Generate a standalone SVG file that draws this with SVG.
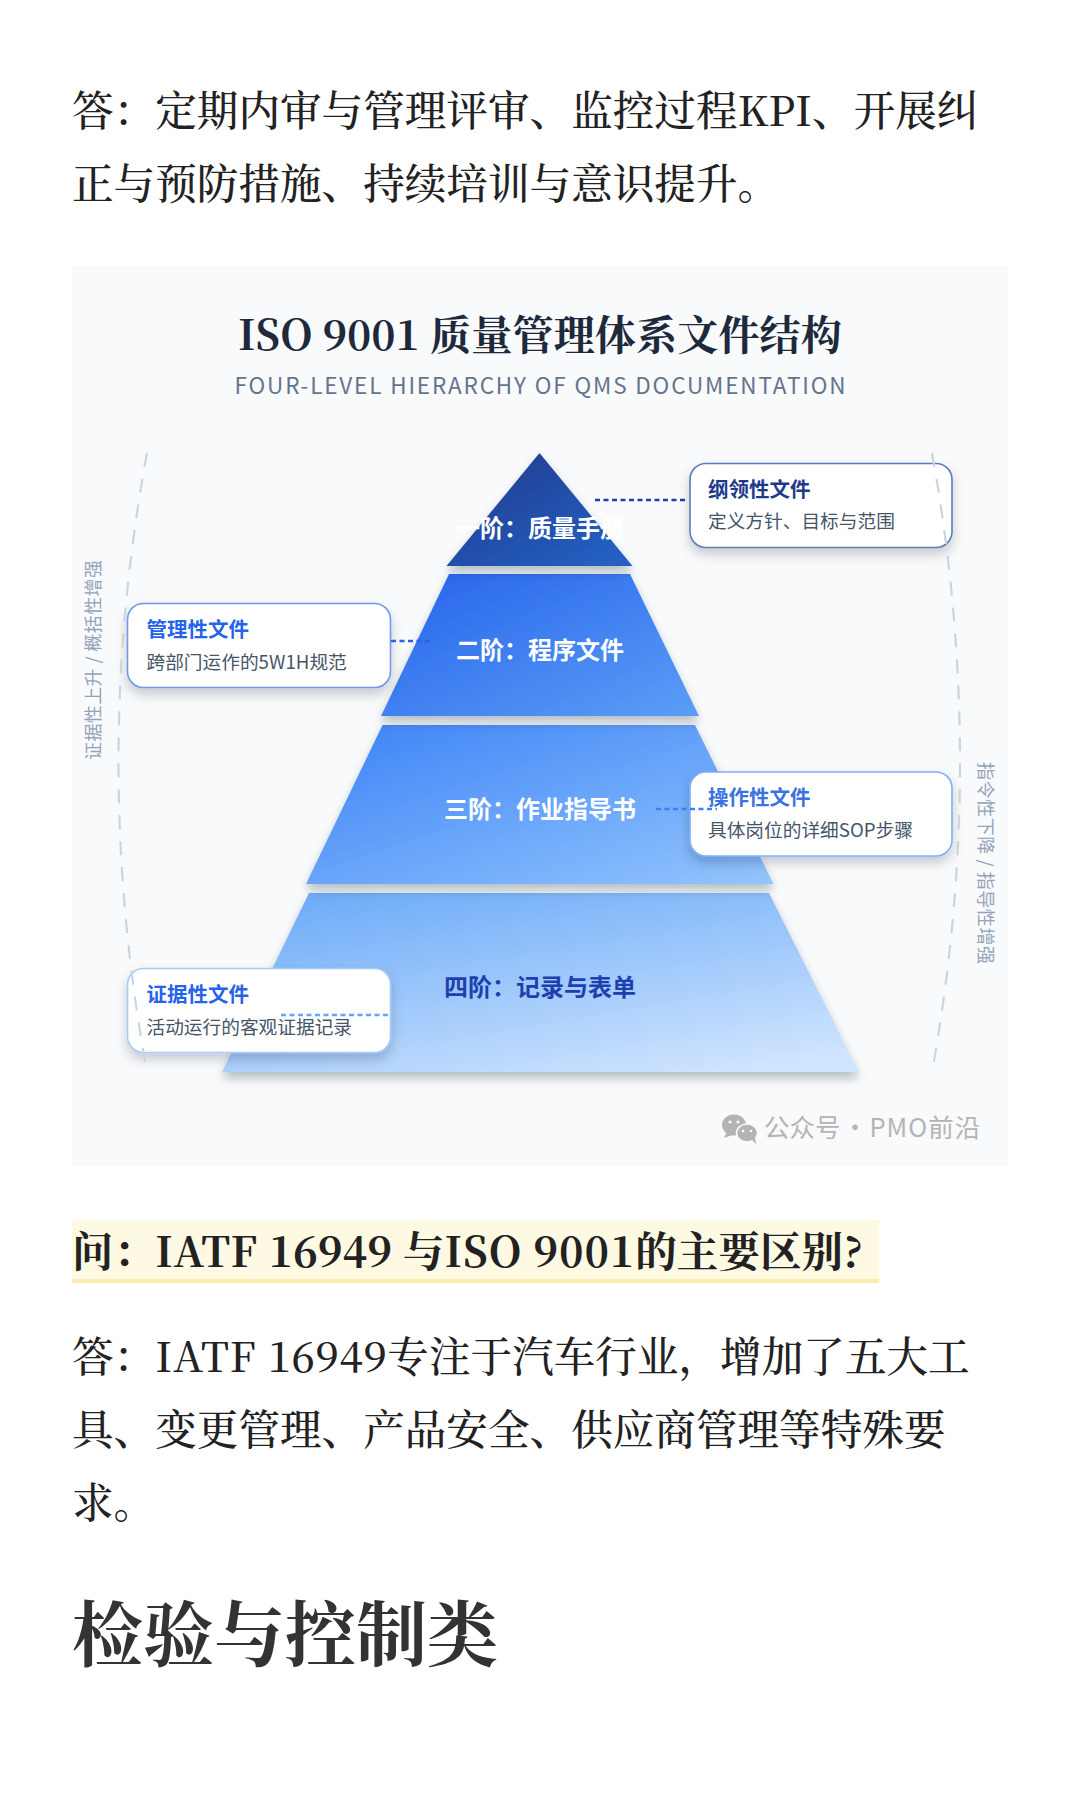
<svg xmlns="http://www.w3.org/2000/svg" width="1080" height="1800" viewBox="0 0 1080 1800">
<style>
.body{font-family:"Noto Serif CJK SC","Liberation Serif","Noto Sans CJK SC",serif;font-size:41.6px;font-weight:500;fill:#222}
.sans{font-family:"Noto Sans CJK SC","Noto Sans",sans-serif}
.tier{font-family:"Noto Sans CJK SC","Noto Sans",sans-serif;font-size:24px;font-weight:700;text-anchor:middle;fill:#fff}
.ct{font-family:"Noto Sans CJK SC","Noto Sans",sans-serif;font-size:20.5px;font-weight:700}
.cs{font-family:"Noto Sans CJK SC","Noto Sans",sans-serif;font-size:18.7px;fill:#475569}
.side{font-family:"Noto Sans CJK SC","Noto Sans",sans-serif;font-size:18px;fill:#94a3b8;text-anchor:middle}
.arc{fill:none;stroke:#cbd5e1;stroke-width:2.2;stroke-dasharray:14 12}
.dash{fill:none;stroke-width:2.4;stroke-dasharray:5 3.5}
.card{fill:#fff;stroke-width:1.6;filter:url(#cs)}
</style>
<defs>
<linearGradient id="g1" x1="0" y1="0" x2="1" y2="1"><stop offset="0" stop-color="#1e3a8a"/><stop offset="1" stop-color="#2563c8"/></linearGradient>
<linearGradient id="g2" x1="0" y1="0" x2="1" y2="1"><stop offset="0" stop-color="#2563eb"/><stop offset="1" stop-color="#5b9ef6"/></linearGradient>
<linearGradient id="g3" x1="0" y1="0" x2="1" y2="1"><stop offset="0" stop-color="#3b82f6"/><stop offset="1" stop-color="#93c5fd"/></linearGradient>
<linearGradient id="g4" x1="0.2" y1="0" x2="0.8" y2="1"><stop offset="0" stop-color="#6fadf8"/><stop offset="1" stop-color="#cfe4fe"/></linearGradient>
<filter id="ts" x="-10%" y="-10%" width="120%" height="130%"><feDropShadow dx="0" dy="6" stdDeviation="5" flood-color="#0f172a" flood-opacity=".28"/></filter>
<filter id="cs" x="-10%" y="-15%" width="120%" height="140%"><feDropShadow dx="0" dy="6" stdDeviation="6" flood-color="#0f172a" flood-opacity=".2"/></filter>
</defs>
<rect width="1080" height="1800" fill="#fff"/>
<g id="para-top" class="body">
<text x="72" y="126">答&#xFF1A;定期内审与管理评审、监控过程KPI、开展纠</text>
<text x="72" y="199">正与预防措施、持续培训与意识提升。</text>
</g>
<g id="figure">
<rect x="72" y="266" width="936" height="900" fill="#f8fafc"/>
<text x="540" y="350" text-anchor="middle" style="font-family:'Noto Serif CJK SC','Liberation Serif','Noto Sans CJK SC',serif;font-size:41.2px;font-weight:700;fill:#1e293b">ISO 9001 质量管理体系文件结构</text>
<text x="540" y="394" text-anchor="middle" class="sans" font-size="22.5" fill="#64748b" textLength="611">FOUR-LEVEL HIERARCHY OF QMS DOCUMENTATION</text>
</g>
<g id="tier-4"><path d="M309 893H769L859 1072H222Z" fill="url(#g4)" filter="url(#ts)"/><text x="540" y="996" class="tier" style="fill:#1e40af">四阶&#xFF1A;记录与表单</text></g>
<g id="tier-3"><path d="M382.500 725H695L773.500 884H306Z" fill="url(#g3)" filter="url(#ts)"/><text x="540" y="818" class="tier">三阶&#xFF1A;作业指导书</text></g>
<g id="tier-2"><path d="M449 574H630L699 716H381Z" fill="url(#g2)" filter="url(#ts)"/><text x="540" y="659" class="tier">二阶&#xFF1A;程序文件</text></g>
<g id="tier-1"><path d="M539.500 453L632.500 566H446.500Z" fill="url(#g1)" filter="url(#ts)"/><text x="540" y="537" class="tier">一阶&#xFF1A;质量手册</text></g>
<g id="card-1"><rect class="card" x="690" y="463.500" width="262" height="84" rx="16" stroke="#5b7db8"/><text class="ct" x="708" y="497" fill="#1e3a8a">纲领性文件</text><text class="cs" x="708" y="528">定义方针、目标与范围</text></g>
<g id="card-2"><rect class="card" x="127.500" y="603.500" width="263" height="84" rx="16" stroke="#6f97e8"/><text class="ct" x="146.500" y="637" fill="#2563eb">管理性文件</text><text class="cs" x="146.500" y="669">跨部门运作的5W1H规范</text></g>
<g id="card-3"><rect class="card" x="690" y="772" width="262" height="84" rx="16" stroke="#7fb0f6"/><text class="ct" x="708" y="805" fill="#3b72e0">操作性文件</text><text class="cs" x="708" y="837">具体岗位的详细SOP步骤</text></g>
<g id="card-4"><rect class="card" x="127.500" y="968.500" width="263" height="84" rx="16" stroke="#a5c9f8"/><text class="ct" x="146.500" y="1002" fill="#2563eb">证据性文件</text><text class="cs" x="146.500" y="1034">活动运行的客观证据记录</text></g>
<g id="connectors">
<path class="dash" d="M595 500H688" stroke="#1e40af"/>
<path class="dash" d="M391 641H432" stroke="#2563eb"/>
<path class="dash" d="M656 809H717" stroke="#3b82f6"/>
<path class="dash" d="M281 1015H390" stroke="#60a5fa"/>
<path class="arc" d="M147 453Q90 762 147 1072"/>
<path class="arc" d="M932 453Q988 762 932 1072"/>
</g>
<g id="side-labels">
<text class="side" transform="translate(100 660) rotate(-90)" textLength="200">证据性上升 / 概括性增强</text>
<text class="side" transform="translate(979 863) rotate(90)" textLength="202">指令性下降 / 指导性增强</text>
</g>
<g id="watermark" fill="#b4b4b4">
<ellipse cx="734" cy="1125" rx="12" ry="10.500"/><path d="M727 1132l-3 6 8-3z"/>
<ellipse cx="747" cy="1133" rx="10.500" ry="9" stroke="#f8fafc" stroke-width="1.500"/><path d="M752 1140l4 4-1-7z"/>
<circle cx="730" cy="1122" r="1.600" fill="#f8fafc"/><circle cx="738" cy="1122" r="1.600" fill="#f8fafc"/>
<circle cx="743" cy="1131" r="1.300" fill="#f8fafc"/><circle cx="751" cy="1131" r="1.300" fill="#f8fafc"/>
<text class="sans" x="764" y="1137" font-size="25.5" word-spacing="-4">公众号 · <tspan letter-spacing="1">PMO前沿</tspan></text>
</g>
<g id="question">
<rect x="72" y="1220" width="807" height="62" fill="#fef9e3"/>
<rect x="72" y="1279" width="807" height="4" fill="#fcecae"/>
<text class="body" x="72" y="1267" style="font-weight:700">问&#xFF1A;<tspan letter-spacing=".25">IATF 16949 </tspan>与<tspan letter-spacing=".9">ISO 9001</tspan>的主要区别?</text>
</g>
<g id="answer" class="body">
<text x="72" y="1372">答&#xFF1A;<tspan letter-spacing=".6">IATF 16949</tspan>专注于汽车行业&#xFF0C;增加了五大工</text>
<text x="72" y="1445">具、变更管理、产品安全、供应商管理等特殊要</text>
<text x="72" y="1518">求。</text>
</g>
<text id="heading" x="72" y="1660" style="font-family:'Noto Serif CJK SC','Liberation Serif','Noto Sans CJK SC',serif;font-size:71px;font-weight:700;fill:#333">检验与控制类</text>
</svg>
